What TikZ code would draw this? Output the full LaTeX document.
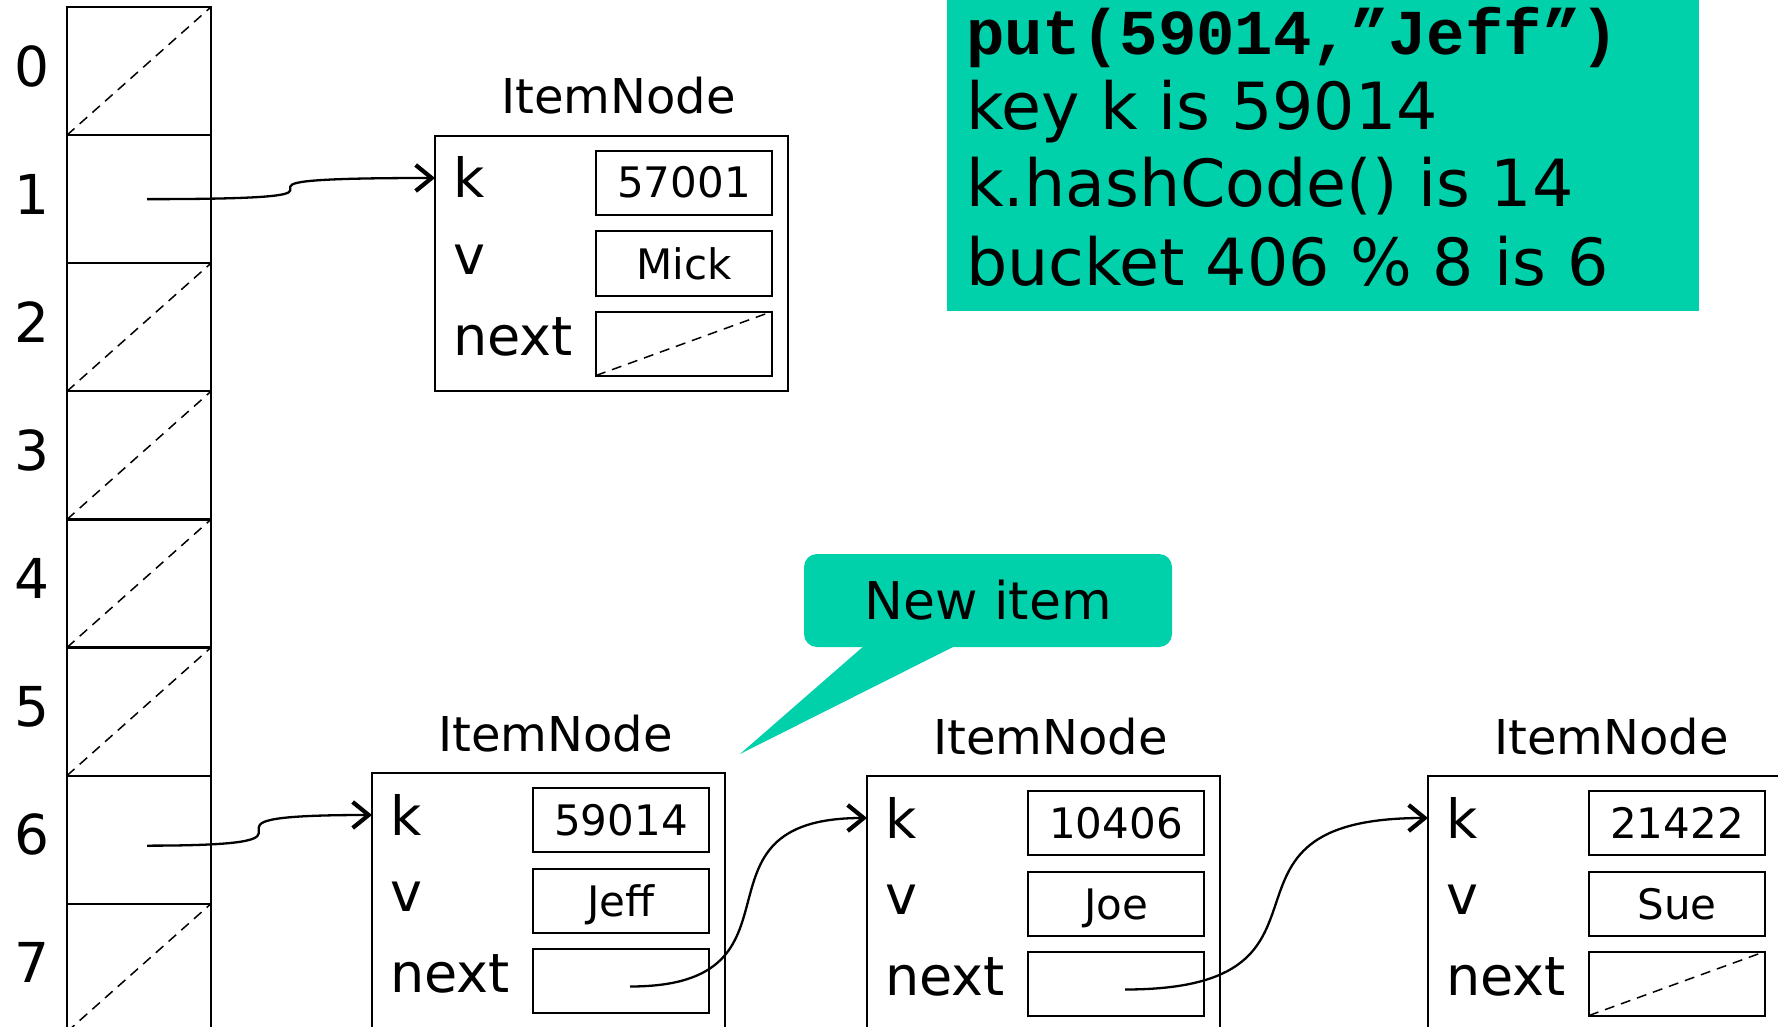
\documentclass[tikz,border=0pt]{standalone}
\usepackage{fontspec}
\setmainfont{DejaVu Sans}
\newfontfamily\codefont{Liberation Mono}
\usetikzlibrary{arrows.meta,calc}
\definecolor{calloutgreen}{RGB}{0,209,170}
\tikzset{
  every node/.style={inner sep=0pt, outer sep=0pt},
  cellbox/.style={draw, line width=2.2pt, minimum width=144pt, minimum height=128.1pt},
  nullline/.style={dash pattern=on 10pt off 7pt, line width=1.5pt},
  outerbox/.style={draw, line width=2pt, minimum width=353pt, minimum height=255pt, anchor=north west},
  fieldbox/.style={draw, line width=2pt, minimum width=176pt, minimum height=64pt},
  fieldlbl/.style={anchor=base west, font=\fontsize{54}{62}\selectfont},
  valtxt/.style={anchor=base, font=\fontsize{42}{50}\selectfont},
  titletxt/.style={anchor=base, font=\fontsize{48}{56}\selectfont},
  idxtxt/.style={font=\fontsize{55}{64}\selectfont},
  infotxt/.style={anchor=base west, font=\fontsize{65}{77}\selectfont},
  ptr/.style={line width=2.3pt, -{Straight Barb[length=16pt,width=26pt,line width=4.2pt]}},
}
\newcommand\itemnode[5]{%
  \node[outerbox] (#1) at (#2,#3) {};
  \node[titletxt] (#1t) at ($(#1.north)+(7,-22)$) {ItemNode};
  \node[fieldbox] (#1k) at ($(#1.north west)+(249,47)$) {};
  \node[fieldbox] (#1v) at ($(#1.north west)+(249,127.5)$) {};
  \node[fieldbox] (#1n) at ($(#1.north west)+(249,207.5)$) {};
  \node[fieldlbl] (#1kl) at ($(#1.north west)+(18,62)$) {k};
  \node[fieldlbl] (#1vl) at ($(#1.north west)+(18,138)$) {v};
  \node[fieldlbl] (#1nl) at ($(#1.north west)+(18,219)$) {next};
  \node[valtxt] (#1kv) at ($(#1k.center)+(0,15)$) {#4};
  \node[valtxt] (#1vv) at ($(#1v.center)+(0,16)$) {#5};
  \coordinate (#1in) at ($(#1.north west)+(0,42)$);
  \coordinate (#1out) at ($(#1n.center)+(9,6)$);
}
\begin{document}
\begin{tikzpicture}[x=1pt,y=-1pt]
\useasboundingbox (0,0) rectangle (1778,1027);
\clip (0,0) rectangle (1778,1027);

% bucket table
\foreach \i in {0,...,7} {
  \node[cellbox] (cell\i) at (139,{7+128.1*(\i+0.5)}) {};
  \node[idxtxt] (idx\i) at (32,{7+128.1*(\i+0.5)-5}) {\i};
}
\foreach \i in {0,2,3,4,5,7} {
  \draw[nullline] (cell\i.south west) -- (cell\i.north east);
}

% item nodes
\itemnode{top}{435}{136}{57001}{Mick}
\itemnode{jeff}{372}{773}{59014}{Jeff}
\itemnode{joe}{867}{776}{10406}{Joe}
\itemnode{sue}{1428}{776}{21422}{Sue}
\draw[nullline] (topn.south west) -- (topn.north east);
\draw[nullline] (suen.south west) -- (suen.north east);

% pointers
\coordinate (s1) at ($(cell1.center)+(8,0)$);
\coordinate (s6) at ($(cell6.center)+(8,6)$);
\draw[ptr] (s1) .. controls (s1 -| topin) and (s1 |- topin) .. (topin);
\draw[ptr] (s6) .. controls (s6 -| jeffin) and (s6 |- jeffin) .. (jeffin);
\draw[ptr] (jeffout) .. controls ($(jeffout)!0.8!(jeffout -| joein)$) and ($(joein)!0.8!(jeffout |- joein)$) .. (joein);
\draw[ptr] (joeout) .. controls ($(joeout)!0.8!(joeout -| suein)$) and ($(suein)!0.8!(joeout |- suein)$) .. (suein);

% info box
\node[fill=calloutgreen, minimum width=752pt, minimum height=311pt, anchor=north west] (info) at (947,0) {};
\node[infotxt, font=\codefont\bfseries\fontsize{64}{77}\selectfont] (info1) at (966,55) {put(59014,”Jeff”)};
\node[infotxt] (info2) at (966,130) {key k is 59014};
\node[infotxt] (info3) at (966,207) {k.hashCode() is 14};
\node[infotxt] (info4) at (966,285) {bucket 406 \% 8 is 6};

% callout
\coordinate (tailtip) at (740,754);
\fill[calloutgreen] (865,645) -- (957,645) -- (tailtip) -- cycle;
\node[fill=calloutgreen, rounded corners=13pt, minimum width=368pt, minimum height=93pt, font=\fontsize{52}{62}\selectfont] (newitem) at (988,600.5) {New item};
\end{tikzpicture}
\end{document}
